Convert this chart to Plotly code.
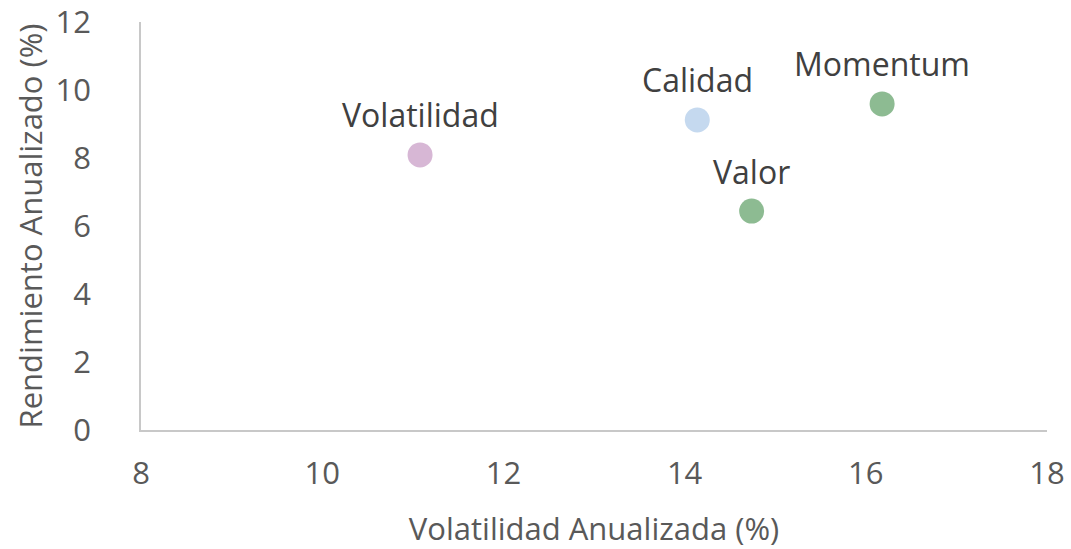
import plotly.graph_objects as go

names = ["Volatilidad", "Calidad", "Valor", "Momentum"]
volatilidad = [11.08, 14.14, 14.74, 16.18]
rendimiento = [8.09, 9.12, 6.44, 9.59]
colors = ["#d7b7d5", "#c5d9ef", "#8dbb92", "#8dbb92"]

x_ticks = [8, 10, 12, 14, 16, 18]
y_ticks = [0, 2, 4, 6, 8, 10, 12]

FONT = "Open Sans"
TXT = "#404040"
AX = "#595959"

fig = go.Figure()
fig.add_trace(go.Scatter(
    x=volatilidad, y=rendimiento, mode="markers",
    marker=dict(size=25, color=colors, line=dict(width=0)),
    hoverinfo="skip", showlegend=False, cliponaxis=False,
))
for n, xv, yv in zip(names, volatilidad, rendimiento):
    fig.add_annotation(x=xv, y=yv, text=n, showarrow=False, yshift=40,
                       font=dict(family=FONT, size=32, color=TXT))

fig.update_xaxes(range=[8, 18], tickvals=x_ticks, showgrid=False, zeroline=False,
                 showline=True, linecolor="#c8c8c8", linewidth=1.5, ticks="",
                 automargin=False, ticklabelstandoff=15, ticklabeloverflow="allow",
                 tickfont=dict(family=FONT, size=31, color=AX),
                 title=dict(text="Volatilidad Anualizada (%)", standoff=31,
                            font=dict(family=FONT, size=31, color=AX)))
fig.update_yaxes(range=[0, 12], tickvals=y_ticks, showgrid=False, zeroline=False,
                 showline=True, linecolor="#c8c8c8", linewidth=1.5, ticks="",
                 automargin=False, ticklabelstandoff=42, ticklabeloverflow="allow",
                 tickfont=dict(family=FONT, size=31, color=AX),
                 title=dict(text="Rendimiento Anualizado (%)", standoff=4,
                            font=dict(family=FONT, size=31, color=AX)))
fig.update_layout(width=1071, height=549, plot_bgcolor="white", paper_bgcolor="white",
                  margin=dict(l=141, r=24, t=22, b=119))
fig.write_html("out.html", config={"displayModeBar": False},
               post_script="document.body.style.margin='0';document.body.style.overflow='hidden';")
